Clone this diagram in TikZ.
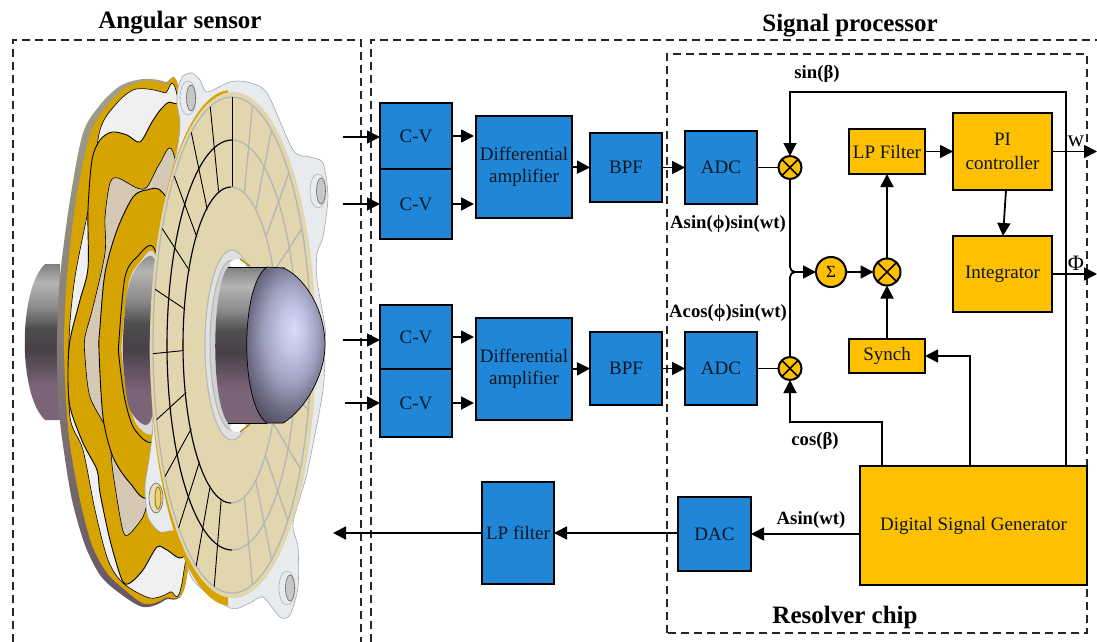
\documentclass[tikz,border=0pt]{standalone}
\usepackage{fontspec}
\setmainfont{Liberation Serif}
\usetikzlibrary{arrows.meta}
\definecolor{bbl}{HTML}{2087D8}
\definecolor{yel}{HTML}{FFC000}
\definecolor{gold}{HTML}{D6A400}
\definecolor{beige}{HTML}{E2D6AE}
\definecolor{tan}{HTML}{D5C9B5}
\definecolor{plate}{HTML}{E8EBEE}
\definecolor{greyline}{HTML}{B4B6B6}
\definecolor{txt}{HTML}{0A1824}
\definecolor{cyl1}{HTML}{4E4E4E}
\definecolor{cyl2}{HTML}{484048}
\definecolor{cyl3}{HTML}{7A6478}
\definecolor{cyl4}{HTML}{8A8A8A}
\definecolor{cyl5}{HTML}{B4B4B4}
\definecolor{cyl6}{HTML}{7F7F7F}
\definecolor{d1}{HTML}{D8DCF8}
\definecolor{d2}{HTML}{BEC2E4}
\definecolor{d3}{HTML}{9EA0BE}
\definecolor{d4}{HTML}{6E6C84}
\definecolor{d5}{HTML}{45414F}
\pgfdeclareverticalshading{cylshade}{100bp}{color(0bp)=(cyl3); color(25bp)=(cyl3); color(36bp)=(cyl3); color(47.5bp)=(cyl2); color(54.5bp)=(cyl1); color(61bp)=(cyl4); color(69bp)=(cyl5); color(75bp)=(cyl6); color(100bp)=(cyl6)}
\pgfdeclareradialshading{domeshade}{\pgfpoint{7bp}{5.5bp}}{color(0bp)=(d1); color(8bp)=(d2); color(16bp)=(d3); color(24bp)=(d4); color(32bp)=(d5); color(50bp)=(d5)}
\tikzset{
  x=1pt,y=-1pt,
  dashbox/.style={black!85,line width=1.1pt,dash pattern=on 8pt off 5pt},
  blk/.style={draw=black,line width=2pt,align=center,inner sep=0pt,outer sep=0pt,text=txt,font=\fontsize{19}{24}\selectfont},
  bluebox/.style={blk,fill=bbl},
  yelbox/.style={blk,fill=yel},
  mult/.style={circle,draw=black,line width=2pt,fill=yel,inner sep=0pt,outer sep=0pt,
    path picture={\draw[line width=1.6pt] (path picture bounding box.north west)--(path picture bounding box.south east) (path picture bounding box.north east)--(path picture bounding box.south west);}},
  arr/.style={line width=1.8pt,-{Triangle[length=13pt,width=13pt]}},
  ln/.style={line width=1.8pt},
  lab/.style={font=\bfseries\fontsize{18.7}{22}\selectfont,inner sep=0pt},
  ttl/.style={font=\bfseries\fontsize{25}{28}\selectfont,inner sep=0pt},
  blackedge/.style={draw=black,line width=0.9pt},
}
\begin{document}
\begin{tikzpicture}
\useasboundingbox (0,0) rectangle (1097,642);
% --- dashed frames
\draw[dashbox] (13,642) -- (13,40) -- (361,40) -- (361,642);
\draw[dashbox] (371,642) -- (371,40) -- (1097,40);
\draw[dashbox] (667,633) -- (667,54) -- (1087,54) -- (1087,633) -- cycle;
% --- sensor
\shade[shading=cylshade] (60,264) -- (45,264) .. controls (18,290) and (18,395) .. (45,420) -- (60,420) -- cycle;
\shade[top color=black!40!white!90!yellow,middle color=black!75,bottom color=cyl3!85!black,draw=none]
  plot[smooth cycle] coordinates {(180,97)(165,82)(143,79)(120,86)(100,105)(83,133)(70,200)(60,277)(57,340)(58,400)(63,445)(72,500)(85,545)(100,575)(118,592)(143,607)(165,600)(187,575)(200,340)};
\fill[gold] plot[smooth cycle] coordinates {(180,97)(165,84)(145,81)(125,88)(105,108)(90,135)(76,200)(67,277)(64,340)(66,400)(70,445)(80,500)(92,545)(107,573)(125,590)(145,604)(165,598)(187,575)(200,340)};
\draw[black,line width=.6pt,fill=black!6] plot[smooth cycle] coordinates {(178,100)(165,93)(148,89)(133,90)(117,103)(100,130)(90,200)(75,277)(69,340)(70,417)(83,450)(95,510)(108,560)(123,583)(150,598)(170,592)(183,577)(210,340)};
% wavy plate
\draw[blackedge,fill=gold] plot[smooth cycle] coordinates {(173,103)(162,108)(152,122)(140,142)(127,135)(112,132)(100,140)(92,160)(88,210)(88,268)(80,300)(70,340)(68,373)(70,407)(83,443)(97,470)(100,493)(110,540)(122,580)(130,583)(143,570)(157,547)(167,550)(183,557)(200,520)(210,340)(200,130)};
\draw[blackedge,line width=.6pt,fill=tan] plot[smooth cycle] coordinates {(173,152)(160,163)(147,187)(137,188)(118,178)(110,183)(105,217)(105,253)(93,307)(85,337)(85,357)(90,397)(108,433)(113,473)(122,527)(128,535)(143,517)(150,497)(190,400)(190,250)};
\draw[blackedge,fill=gold] plot[smooth cycle] coordinates {(163,193)(147,190)(133,197)(117,230)(105,273)(100,327)(99,350)(103,417)(113,457)(130,483)(150,497)(190,440)(195,250)};
% hole in plate
\draw[blackedge,fill=gold] plot[smooth cycle] coordinates {(155,250)(137,257)(125,277)(119,340)(119,357)(125,400)(135,430)(155,438)(170,345)};
\fill[black!15] plot[smooth cycle] coordinates {(155,255)(140,262)(129,282)(122,340)(122,357)(128,398)(137,425)(155,430)(170,345)};
\shade[shading=cylshade] plot[smooth cycle] coordinates {(155,260)(137,267)(127,293)(123,340)(124,373)(130,410)(150,422)(165,345)};
% front plate
\draw[draw=black!35,line width=.6pt,fill=plate] plot[smooth cycle,tension=.45] coordinates {(192,73)(183,76)(178,88)(177,103)(180,123)(177,150)(160,227)(150,340)(153,420)(150,453)(145,487)(148,517)(160,532)(177,533)(193,580)(230,608)(250,603)(263,597)(280,617)(290,615)(298,587)(298,547)(293,523)(307,473)(323,390)(325,340)(325,327)(317,280)(317,253)(323,237)(328,197)(323,163)(310,157)(293,150)(267,93)(247,82)(230,82)(207,92)(200,80)};
% ears
\foreach \cx/\cy in {188/98,318/191,287/588}{
  \draw[black!30,line width=.6pt,fill=plate] (\cx,\cy) ellipse [x radius=8,y radius=17];
  \draw[black!60,line width=.6pt,fill=black!22] (\cx+3,\cy) ellipse [x radius=4.5,y radius=13];
}
\draw[black!60,line width=.6pt,fill=plate!80!gold] (156,498) ellipse [x radius=7,y radius=15];
\draw[gold!80!black,line width=1pt,fill=gold!50] (158,498) ellipse [x radius=3,y radius=11];
% front disc
\begin{scope}
\clip (228,60) rectangle (140,640);
\fill[gold] (231,348) ellipse [x radius=81,y radius=258];
\end{scope}
\fill[beige] (233,345) ellipse [x radius=83,y radius=253];
\draw[greyline,line width=1.3pt] (232,345) ellipse [x radius=79,y radius=248];
\draw[greyline,line width=1.3pt] (232,345) ellipse [x radius=65,y radius=205];
\foreach \a in {75,60,44,28,13,-2,-15,-30,-45,-60,-75}{
  \draw[greyline,line width=1.3pt] ({232+48*cos(\a)},{345-158*sin(\a)}) -- ({232+79*cos(\a)},{345-248*sin(\a)});
}
\foreach \a in {90,106,121,137,152,167,182,197.5,212,227.5,243,257}{
  \draw[black,line width=.9pt] ({232+48*cos(\a)},{345-158*sin(\a)}) -- ({232+79*cos(\a)},{345-248*sin(\a)});
}
\draw[black,line width=1.1pt] plot[domain=90:270,samples=60,variable=\t] ({232+65*cos(\t)},{345-205*sin(\t)});
\draw[greyline,line width=1.3pt] (231,345) ellipse [x radius=48,y radius=158];
\draw[black,line width=1.1pt] plot[domain=90:270,samples=60,variable=\t] ({231+48*cos(\t)},{345-158*sin(\t)});
% centre hole and shaft
\draw[greyline,line width=1pt,fill=black!12] (232,345) ellipse [x radius=27,y radius=95];
\draw[greyline,line width=1pt,fill=black!18] (232,345) ellipse [x radius=22,y radius=85];
\fill[white] (238,264) ellipse [x radius=8,y radius=5];
\fill[white] (238,427) ellipse [x radius=8,y radius=5];
\draw[gold!80!black,line width=1.3pt] (240,259) -- (250,266);
\draw[gold!80!black,line width=1.3pt] (240,432) -- (250,424);
\shade[shading=cylshade,draw=none] (228,267) .. controls (212,285) and (210,400) .. (228,423) -- (285,423) -- (285,267) -- cycle;
\draw[black,line width=.7pt] (228,267) -- (267,267) (228,423) -- (267,423);
\draw[black,line width=.7pt,shading=domeshade] (267,267) -- (283,268) .. controls (300,274) and (325,305) .. (325,345) .. controls (325,375) and (305,410) .. (283,423) -- (267,423) .. controls (240,405) and (240,285) .. (267,267) -- cycle;
% --- blocks
\node[bluebox,minimum width=72pt,minimum height=66pt] (cv1) at (416,136) {C-V};
\node[bluebox,minimum width=72pt,minimum height=70pt] (cv2) at (416,204) {C-V};
\node[bluebox,minimum width=96pt,minimum height=102pt] (diff1) at (524,167) {\raisebox{-1.5pt}{Differential}\\amplifier};
\node[bluebox,minimum width=72pt,minimum height=69pt] (bpf1) at (626,167.5) {BPF};
\node[bluebox,minimum width=72pt,minimum height=73pt] (adc1) at (721,167.5) {ADC};
\node[bluebox,minimum width=72pt,minimum height=64pt] (cv3) at (416,337) {C-V};
\node[bluebox,minimum width=72pt,minimum height=68pt] (cv4) at (416,403) {C-V};
\node[bluebox,minimum width=96pt,minimum height=102pt] (diff2) at (524,369) {\raisebox{-1.5pt}{Differential}\\amplifier};
\node[bluebox,minimum width=72pt,minimum height=73pt] (bpf2) at (626,368.5) {BPF};
\node[bluebox,minimum width=72pt,minimum height=73pt] (adc2) at (721,368.5) {ADC};
\node[bluebox,minimum width=72pt,minimum height=102pt] (lpf) at (518,533) {LP filter};
\node[bluebox,minimum width=73pt,minimum height=74pt] (dac) at (714.5,534) {DAC};
\node[yelbox,minimum width=76pt,minimum height=45pt] (lpu) at (887,151.5) {LP Filter};
\node[yelbox,minimum width=99pt,minimum height=77pt] (pi) at (1002.5,151.5) {PI\\controller};
\node[yelbox,minimum width=99pt,minimum height=76pt] (integ) at (1002.5,274) {\raisebox{-2pt}{Integrator}};
\node[yelbox,minimum width=76pt,minimum height=34pt] (synch) at (887,356) {Synch};
\node[yelbox,minimum width=227pt,minimum height=119pt] (dsg) at (973.5,525.5) {\raisebox{-2pt}{Digital Signal Generator}};
\node[mult,minimum size=23pt] (m1) at (790,167.5) {};
\node[mult,minimum size=23pt] (m2) at (790,368.5) {};
\node[mult,minimum size=27pt] (m3) at (887,272) {};
\node[circle,draw=black,line width=2pt,fill=yel,inner sep=0pt,outer sep=0pt,minimum size=30pt,font=\fontsize{17}{19}\selectfont] (sum) at (831,272) {Σ};
% --- free ends
\coordinate (i1) at (343,137);
\coordinate (i2) at (343,204);
\coordinate (i3) at (343,340);
\coordinate (i4) at (345,403);
\coordinate (o1) at (333,533);
\coordinate (w) at (1097,151.5);
\coordinate (phi) at (1097,274);
% --- connectors
\draw[arr] (i1) -- (i1 -| cv1.west);
\draw[arr] (i2) -- (i2 -| cv2.west);
\draw[arr] (i3) -- (i3 -| cv3.west);
\draw[arr] (i4) -- (i4 -| cv4.west);
\draw[arr,shorten >=2pt] (cv1.east) -- (cv1.east -| diff1.west);
\draw[arr,shorten >=2pt] (cv2.east) -- (cv2.east -| diff1.west);
\draw[arr,shorten >=2pt] (cv3.east) -- (cv3.east -| diff2.west);
\draw[arr,shorten >=2pt] (cv4.east) -- (cv4.east -| diff2.west);
\draw[arr] (diff1.east) -- (bpf1.west);
\draw[arr] (diff2.east) -- (bpf2.west);
\draw[arr] (bpf1.east) -- (adc1.west);
\draw[arr] (bpf2.east) -- (adc2.west);
\draw[ln] (adc1.east) -- (m1.west);
\draw[ln] (adc2.east) -- (m2.west);
\draw[arr,rounded corners=5pt] (m1.south) |- (sum.west);
\draw[ln,rounded corners=5pt] (m2.north) |- (sum.west);
\draw[arr] (sum.east) -- (m3.west);
\draw[arr] (m3.north) -- (lpu.south);
\draw[arr] (synch.north) -- (m3.south);
\draw[arr] (lpu.east) -- (pi.west);
\draw[arr] ([xshift=3.5pt]pi.south) -- ([xshift=.5pt]integ.north);
\draw[arr] (pi.east) -- (w);
\draw[arr] (integ.east) -- (phi);
\coordinate (s1) at (1066,92);
\coordinate (c1) at (882,422);
\coordinate (y1) at (970,356);
\draw[arr] (dsg.north -| s1) -- (s1) -| (m1.north);
\draw[arr] (dsg.north -| c1) -- (c1) -| (m2.south);
\draw[arr] (dsg.north -| y1) -- (y1) -- (synch.east);
\draw[arr] (dsg.west |- dac.east) -- (dac.east);
\draw[arr] (dac.west |- lpf.east) -- (lpf.east);
\draw[arr] (lpf.west) -- (o1);
% --- labels
\node[ttl] (t1) at (180,23) {Angular sensor};
\node[ttl] (t2) at (850,26) {Signal processor};
\node[ttl] (t3) at (845,617) {Resolver chip};
\node[lab] (l1) at (817,74) {sin(β)};
\node[lab] (l2) at (728,224) {Asin(ϕ)sin(wt)};
\node[lab] (l3) at (728,313) {Acos(ϕ)sin(wt)};
\node[lab] (l4) at (815,441) {cos(β)};
\node[lab] (l5) at (811,520) {Asin(wt)};
\node[inner sep=0pt,font=\fontsize{23}{25}\selectfont] (l6) at (1076,141) {w};
\node[inner sep=0pt,font=\fontsize{22}{24}\selectfont] (l7) at (1076,263) {Φ};
\end{tikzpicture}
\end{document}
